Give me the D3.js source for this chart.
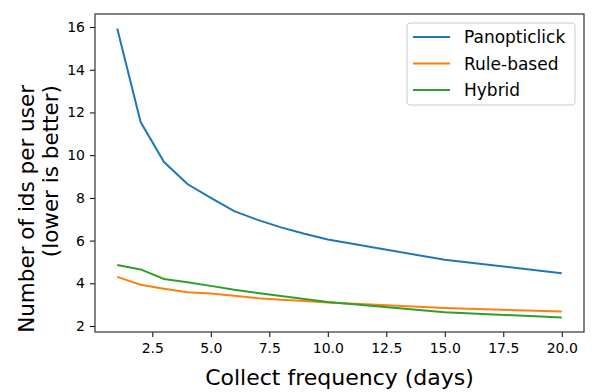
<!DOCTYPE html>
<html>
<head>
<meta charset="utf-8">
<script src="https://cdn.jsdelivr.net/npm/d3@7"></script>
<style>
body { margin: 0; background: #fff; }
svg text { font-family: "DejaVu Sans", sans-serif; fill: #000; }
</style>
</head>
<body>
<svg id="chart" width="612" height="392"></svg>
<script>
var days = [1, 2, 3, 4, 5, 6, 7, 8, 9, 10, 15, 20];
var panopticlick = [15.93, 11.55, 9.68, 8.65, 8.0, 7.38, 6.97, 6.62, 6.32, 6.05, 5.1, 4.47];
var ruleBased = [4.3, 3.93, 3.75, 3.58, 3.52, 3.42, 3.3, 3.23, 3.17, 3.1, 2.84, 2.68];
var hybrid = [4.86, 4.65, 4.2, 4.05, 3.88, 3.7, 3.55, 3.41, 3.27, 3.13, 2.64, 2.4];
var seriesNames = ["Panopticlick", "Rule-based", "Hybrid"];
var colors = ["#1f77b4", "#ff7f0e", "#2ca02c"];
var xTicks = [2.5, 5, 7.5, 10, 12.5, 15, 17.5, 20];
var yTicks = [2, 4, 6, 8, 10, 12, 14, 16];

var svg = d3.select("#chart");
var plotLeft = 95, plotRight = 584, plotTop = 14, plotBottom = 332;

var x = d3.scaleLinear().domain([0.05, 20.95]).range([plotLeft, plotRight]);
var y = d3.scaleLinear().domain([1.72, 16.61]).range([plotBottom, plotTop]);

var allSeries = [panopticlick, ruleBased, hybrid];
var line = d3.line()
    .x(function (d, i) { return x(days[i]); })
    .y(function (d) { return y(d); });

svg.append("g").selectAll("path")
    .data(allSeries)
    .enter().append("path")
    .attr("d", line)
    .attr("fill", "none")
    .attr("stroke", function (d, i) { return colors[i]; })
    .attr("stroke-width", 2);

// axes
var xAxis = svg.append("g")
    .attr("transform", "translate(0," + plotBottom + ")")
    .call(d3.axisBottom(x).tickValues(xTicks).tickFormat(d3.format(".1f")).tickSize(5).tickPadding(6));
var yAxis = svg.append("g")
    .attr("transform", "translate(" + plotLeft + ",0)")
    .call(d3.axisLeft(y).tickValues(yTicks).tickFormat(d3.format("d")).tickSize(5).tickPadding(5));
[xAxis, yAxis].forEach(function (a) {
    a.select(".domain").remove();
    a.selectAll("line").attr("stroke", "#000").attr("stroke-width", 1);
    a.selectAll("text").style("font-size", "14px").style("font-family", "DejaVu Sans");
});

svg.append("rect")
    .attr("x", plotLeft).attr("y", plotTop)
    .attr("width", plotRight - plotLeft).attr("height", plotBottom - plotTop)
    .attr("fill", "none").attr("stroke", "#333").attr("stroke-width", 1.2);

svg.append("text")
    .attr("x", (plotLeft + plotRight) / 2).attr("y", 385)
    .attr("text-anchor", "middle")
    .style("font-size", "22px")
    .text("Collect frequency (days)");

// both lines end at the same height, like the original
var yl = svg.append("text")
    .attr("transform", "translate(34,85) rotate(-90)")
    .attr("text-anchor", "end")
    .style("font-size", "21.5px");
yl.append("tspan").attr("x", 0).attr("dy", 0).text("Number of ids per user");
yl.append("tspan").attr("x", 0).attr("dy", 24).text("(lower is better)");

// legend
var lg = svg.append("g");
lg.append("rect")
    .attr("x", 407).attr("y", 23).attr("width", 168).attr("height", 82)
    .attr("rx", 3)
    .attr("fill", "#fff").attr("fill-opacity", 0.8)
    .attr("stroke", "#ccc");
seriesNames.forEach(function (name, i) {
    var yy = 37 + i * 26.5;
    lg.append("line")
        .attr("x1", 413).attr("x2", 450).attr("y1", yy).attr("y2", yy)
        .attr("stroke", colors[i]).attr("stroke-width", 2);
    lg.append("text")
        .attr("x", 464).attr("y", yy + 6)
        .style("font-size", "17px")
        .text(name);
});
</script>
</body>
</html>
